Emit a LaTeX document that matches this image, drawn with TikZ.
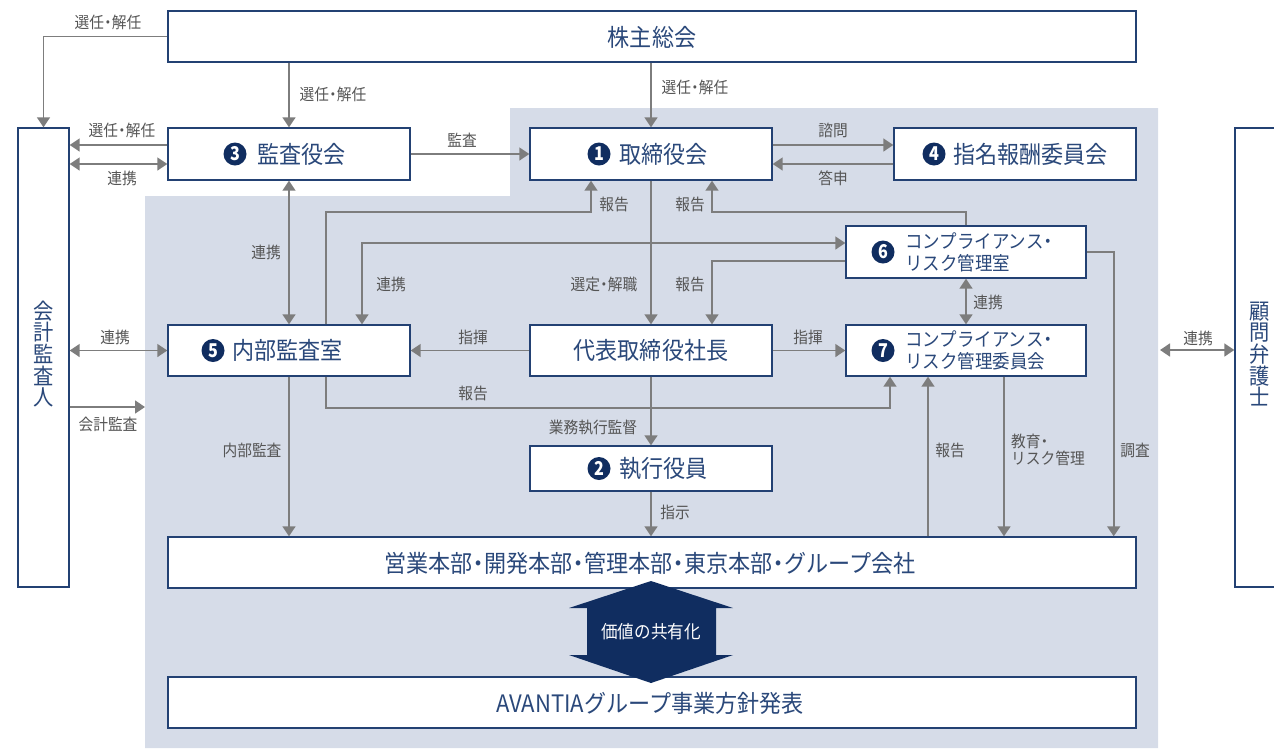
\documentclass[tikz,border=0pt]{standalone}
\usepackage{fontspec}
\setmainfont{Noto Sans CJK JP}
\newfontfamily\cond[FakeStretch=0.92]{Noto Sans CJK JP}
\newfontfamily\numfont[FakeStretch=0.85]{Noto Sans CJK JP}
\usetikzlibrary{arrows.meta}
\newcommand{\nd}{\kern-0.22em・\kern-0.22em}
\definecolor{bggray}{RGB}{214,220,232}
\definecolor{navy}{RGB}{16,45,96}
\definecolor{boxline}{RGB}{35,65,115}
\definecolor{boxtext}{RGB}{42,72,122}
\definecolor{linegray}{RGB}{125,125,125}
\definecolor{lbltext}{RGB}{85,85,85}
\tikzset{
 box/.style={draw=boxline, line width=1.4pt, fill=white, inner sep=0pt},
 btxt/.style={font=\cond\fontsize{24}{27}\selectfont, text=boxtext, inner sep=0pt},
 stxt/.style={font=\cond\fontsize{19}{22}\selectfont, text=boxtext, inner sep=0pt, align=left},
 vtxt/.style={font=\cond\fontsize{22}{21.6}\selectfont, text=boxtext, inner sep=0pt, align=center},
 lbl/.style={font=\cond\fontsize{16}{18}\selectfont, text=lbltext, inner sep=0pt},
 numc/.style={circle, fill=navy, minimum size=23pt, inner sep=0pt, text=white, font=\numfont\bfseries\fontsize{19}{19}\selectfont},
 conn/.style={draw=linegray, line width=1.7pt},
 arr/.style={conn, -{Triangle[width=13pt,length=10pt]}},
 arr2/.style={conn, {Triangle[width=13pt,length=10pt]}-{Triangle[width=13pt,length=10pt]}},
}
\begin{document}
\begin{tikzpicture}[x=1pt,y=-1pt]
\useasboundingbox (0,0) rectangle (1274,748);
% background
\fill[bggray] (145,196) -- (510,196) -- (510,108) -- (1158,108) -- (1158,748) -- (145,748) -- cycle;

% boxes
\node[box, minimum width=968pt, minimum height=51pt] (sokai) at (652,36.5) {};
\node[box, minimum width=51pt, minimum height=459pt] (kaikei) at (43.5,357.5) {};
\node[box, minimum width=55pt, minimum height=459pt] (komon) at (1262.5,357.5) {};
\node[box, minimum width=242pt, minimum height=52pt] (kansayaku) at (289,154) {};
\node[box, minimum width=242pt, minimum height=52pt] (torishimari) at (651,154) {};
\node[box, minimum width=242pt, minimum height=52pt] (shimei) at (1015,154) {};
\node[box, minimum width=240pt, minimum height=52pt] (comp6) at (966,252) {};
\node[box, minimum width=242pt, minimum height=51pt] (naibu) at (289,350.5) {};
\node[box, minimum width=242pt, minimum height=51pt] (shacho) at (651,350.5) {};
\node[box, minimum width=240pt, minimum height=51pt] (comp7) at (966,350.5) {};
\node[box, minimum width=242pt, minimum height=45pt] (shikko) at (651,468.5) {};
\node[box, minimum width=968pt, minimum height=51pt] (eigyo) at (652,562.5) {};
\node[box, minimum width=968pt, minimum height=51pt] (avantia) at (652,702.5) {};

% connectors
\draw[arr] (sokai.west) -| (kaikei.north);
\draw[arr] (sokai.south -| kansayaku.north) -- (kansayaku.north);
\draw[arr] (sokai.south -| torishimari.north) -- (torishimari.north);
\draw[arr] ([yshift=9pt]kansayaku.west) -- ([yshift=9pt]kansayaku.west -| kaikei.east);
\draw[arr2] ([yshift=-10pt]kansayaku.west) -- ([yshift=-10pt]kansayaku.west -| kaikei.east);
\draw[arr] (kansayaku.east) -- (torishimari.west);
\draw[arr] ([yshift=9pt]torishimari.east) -- ([yshift=9pt]torishimari.east -| shimei.west);
\draw[arr] ([yshift=-10pt]shimei.west) -- ([yshift=-10pt]shimei.west -| torishimari.east);
\draw[arr2] (kansayaku.south) -- (naibu.north);
\draw[arr] ([xshift=37pt]naibu.north) |- ([xshift=-60pt,yshift=-31pt]torishimari.south) -- ([xshift=-60pt]torishimari.south);
\draw[arr] (comp6.north) |- ([xshift=61pt,yshift=-31pt]torishimari.south) -- ([xshift=61pt]torishimari.south);
\draw[arr] (torishimari.south) -- (shacho.north);
\draw[arr2] ([xshift=73pt]naibu.north) |- ([yshift=9pt]comp6.west);
\draw[arr] ([yshift=-9pt]comp6.west) -| ([xshift=61pt]shacho.north);
\draw[arr2] (comp6.south) -- (comp7.north);
\draw[arr] (shacho.west) -- (naibu.east);
\draw[arr] (shacho.east) -- (comp7.west);
\draw[arr] ([xshift=37pt]naibu.south) |- ([xshift=-76pt,yshift=-31pt]comp7.south) -- ([xshift=-76pt]comp7.south);
\draw[arr] (shacho.south) -- (shikko.north);
\draw[arr] (shikko.south) -- (shikko.south |- eigyo.north);
\draw[arr] (naibu.south) -- (naibu.south |- eigyo.north);
\draw[arr] ([xshift=-38pt]comp7.south |- eigyo.north) -- ([xshift=-38pt]comp7.south);
\draw[arr] ([xshift=38pt]comp7.south) -- ([xshift=38pt]comp7.south |- eigyo.north);
\draw[arr] (comp6.east) -| ([xshift=27pt]comp6.east |- eigyo.north);
\draw[arr2] (kaikei.east |- naibu.west) -- (naibu.west);
\coordinate (kaEnd) at (145,407);
\draw[arr] (kaikei.east |- kaEnd) -- (kaEnd);
\coordinate (bgR) at (1160,350);
\draw[arr2] (bgR) -- (bgR -| komon.west);

% box texts
\node[btxt] (sokaiT) at (652,37) {株主総会};
\node[vtxt] (kaikeiT) at (43.5,354) {会\\計\\監\\査\\人};
\node[vtxt] (komonT) at (1260,354) {顧\\問\\弁\\護\\士};
\node[numc] (c3) at (235,154) {3};
\node[btxt, anchor=west] (kansayakuT) at (257,154) {監査役会};
\node[numc] (c1) at (599,154) {1};
\node[btxt, anchor=west] (torishimariT) at (619,154) {取締役会};
\node[numc] (c4) at (934,154) {4};
\node[btxt, anchor=west] (shimeiT) at (953,154) {指名報酬委員会};
\node[numc] (c6) at (883,252) {6};
\node[stxt, anchor=west] (comp6T) at (905,252) {コンプライアンス\nd\\リスク管理室};
\node[numc] (c5) at (213,350.5) {5};
\node[btxt, anchor=west] (naibuT) at (232,350.5) {内部監査室};
\node[btxt] (shachoT) at (651,350.5) {代表取締役社長};
\node[numc] (c7) at (883,350.5) {7};
\node[stxt, anchor=west] (comp7T) at (905,350.5) {コンプライアンス\nd\\リスク管理委員会};
\node[numc] (c2) at (599,468.5) {2};
\node[btxt, anchor=west] (shikkoT) at (619,468.5) {執行役員};
\node[btxt] (eigyoT) at (650,563) {営業本部\nd 開発本部\nd 管理本部\nd 東京本部\nd グループ会社};
\node[btxt] (avantiaT) at (650,703) {AVANTIAグループ事業方針発表};

% labels
\node[lbl] (l1) at (108,22) {選任\nd 解任};
\node[lbl] (l2) at (333,94) {選任\nd 解任};
\node[lbl] (l3) at (695,87) {選任\nd 解任};
\node[lbl] (l4) at (122,130) {選任\nd 解任};
\node[lbl] (l5) at (122,178) {連携};
\node[lbl] (l6) at (462,140) {監査};
\node[lbl] (l7) at (833,130) {諮問};
\node[lbl] (l8) at (833,178) {答申};
\node[lbl] (l9) at (266,252) {連携};
\node[lbl] (l10) at (614,204) {報告};
\node[lbl] (l11) at (690,204) {報告};
\node[lbl] (l12) at (604,284) {選定\nd 解職};
\node[lbl] (l13) at (391,284) {連携};
\node[lbl] (l14) at (690,284) {報告};
\node[lbl] (l15) at (988,302) {連携};
\node[lbl] (l16) at (473,337) {指揮};
\node[lbl] (l17) at (808,337) {指揮};
\node[lbl] (l18) at (473,393) {報告};
\node[lbl] (l19) at (593,428) {業務執行監督};
\node[lbl] (l20) at (675,512) {指示};
\node[lbl] (l21) at (252,450) {内部監査};
\node[lbl] (l22) at (950,450) {報告};
\node[lbl, align=left, anchor=west, font=\cond\fontsize{16}{16.5}\selectfont] (l23) at (1011,450) {教育\nd\\リスク管理};
\node[lbl] (l24) at (1135,450) {調査};
\node[lbl] (l25) at (115,337) {連携};
\node[lbl] (l26) at (108,424) {会計監査};
\node[lbl] (l27) at (1198,338) {連携};

% value sharing arrow
\fill[navy] (651,581) -- (733,608) -- (716,608) -- (716,655) -- (733,655) -- (651,683) -- (569,655) -- (587,655) -- (587,608) -- (569,608) -- cycle;
\node[font=\cond\fontsize{18}{20}\selectfont, text=white, inner sep=0pt] (kachi) at (651,632) {価値の共有化};
\end{tikzpicture}
\end{document}
